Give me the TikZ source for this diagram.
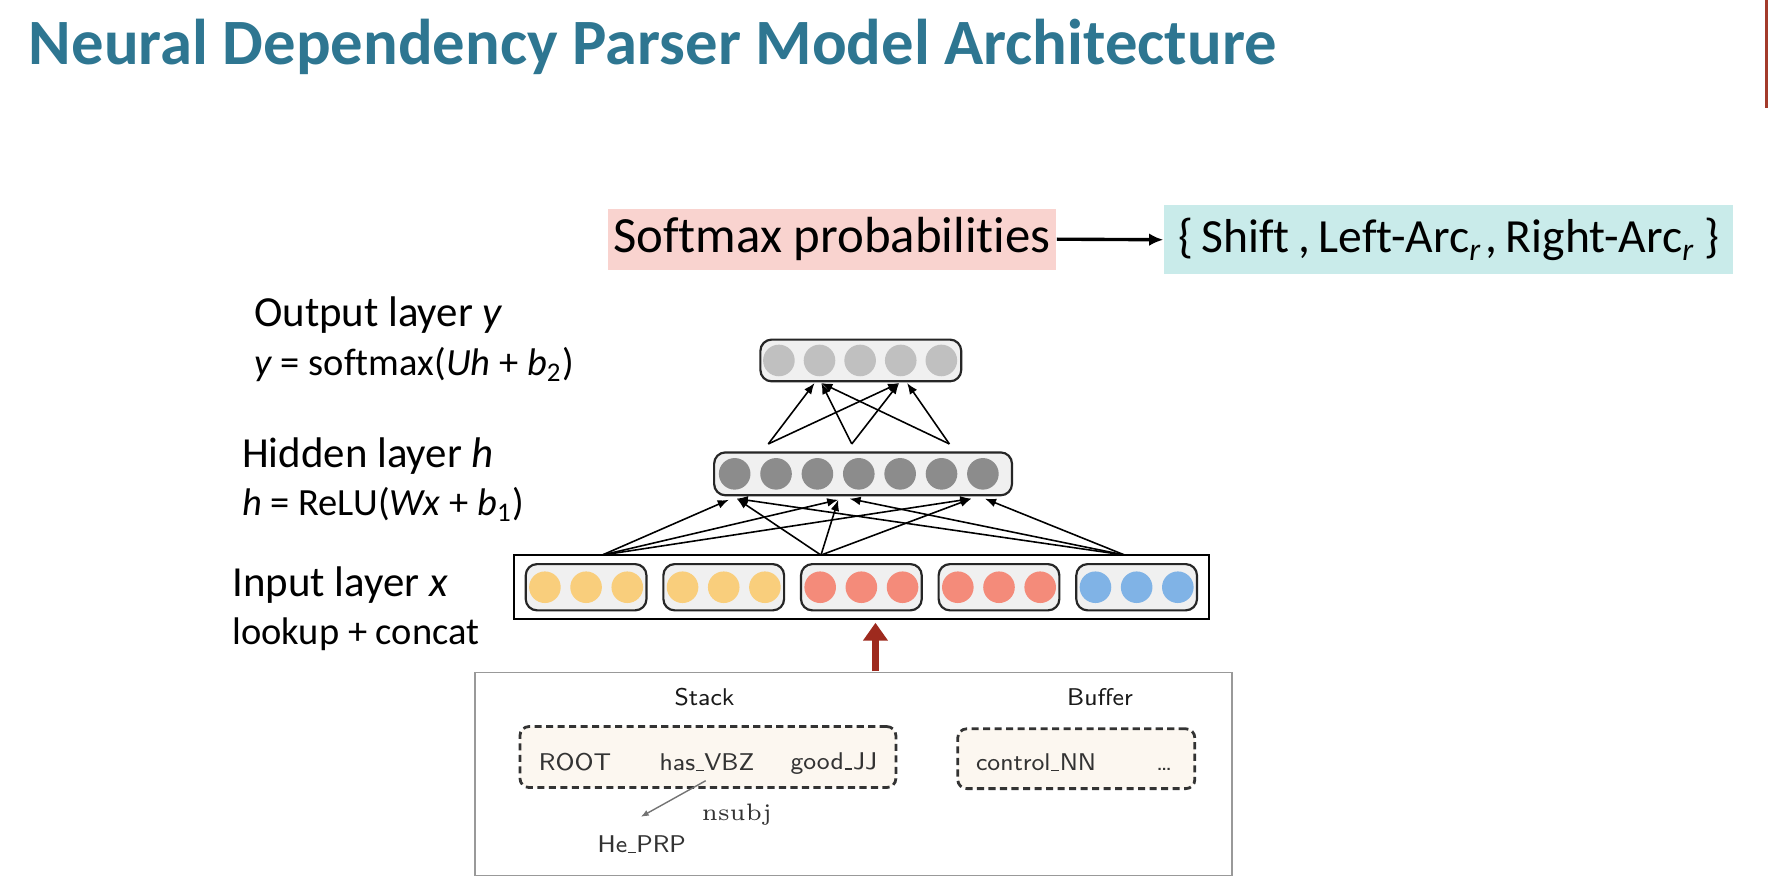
\documentclass[tikz,border=0pt]{standalone}
\usepackage{fontspec}
\setmainfont{Carlito}[Ligatures=NoCommon]
\usetikzlibrary{arrows.meta}

\definecolor{titleblue}{HTML}{2E7691}
\definecolor{softpink}{HTML}{F9D3CF}
\definecolor{actcyan}{HTML}{C9EBEA}
\definecolor{wordyellow}{HTML}{F9CE7C}
\definecolor{tagsalmon}{HTML}{F48B7A}
\definecolor{arcblue}{HTML}{80B3E6}
\definecolor{hidgray}{HTML}{8C8C8C}
\definecolor{outgray}{HTML}{C0C0C0}
\definecolor{liftred}{HTML}{9E2A1E}
\definecolor{edgered}{HTML}{A33B2B}
\definecolor{stackcream}{HTML}{FCF7F0}

\newcommand{\tagbar}{\kern0.03em\rule[-0.02em]{0.32em}{0.06em}\kern0.03em}
\newcommand{\actgap}{\hspace{0.18em}}

\tikzset{
  layerlabel/.style={anchor=base west, inner sep=0pt, font=\fontsize{10.8}{13}\selectfont},
  formula/.style={anchor=base west, inner sep=0pt, font=\fontsize{9.7}{12}\selectfont},
  layerbox/.style={draw=black!85, line width=0.55pt, rounded corners=0.1cm, fill=black!6},
  neuron/.style={circle, inner sep=0pt, minimum size=0.28cm},
  conn/.style={line width=0.4pt, -{Latex[length=2.8pt,width=2.2pt]}},
  probarrow/.style={line width=0.85pt, -{Latex[length=3.6pt,width=3.2pt]}},
  liftarrow/.style={draw=liftred, line width=1.8pt, -{Triangle[length=4.5pt,width=6pt]}},
  confword/.style={anchor=base west, inner sep=0pt, text=black!80, font=\sffamily\fontsize{6.1}{7}\selectfont},
  confhead/.style={anchor=base, inner sep=0pt, text=black!90, font=\sffamily\fontsize{6.1}{7}\selectfont},
  stackbox/.style={draw=black!80, line width=0.7pt, dash pattern=on 1.8pt off 1.1pt, rounded corners=0.08cm, fill=stackcream, inner sep=0pt},
  deparc/.style={draw=black!55, line width=0.35pt, -{Latex[length=2pt,width=1.6pt]}},
}

\begin{document}
\begin{tikzpicture}[x=0.01cm, y=-0.01cm]
  \fill[white] (0,0) rectangle (1568,784);
  \useasboundingbox (0,0) rectangle (1568,784);

  \node[anchor=base west, inner sep=0pt, text=titleblue, font=\bfseries\fontsize{16.3}{19}\selectfont] (title) at (25,57) {Neural Dependency Parser Model Architecture};
  \draw[edgered, line width=0.8pt] (1566,0) -- (1566,96);

  % softmax and the transitions
  \node[fill=softpink, minimum width=3.97cm, minimum height=0.54cm, inner sep=0pt, font=\fontsize{12.8}{15}\selectfont] (softmax) at (737.5,212) {Softmax probabilities};
  \node[fill=actcyan, minimum width=5.04cm, minimum height=0.61cm, inner sep=0pt, font=\fontsize{12}{15}\selectfont] (actions) at (1284,212.5) {\{\actgap Shift\actgap,\actgap Left-Arc\textsubscript{\textit{r}}\hspace{0.06em},\actgap Right-Arc\textsubscript{\textit{r}}\actgap\}};
  \draw[probarrow] (softmax.east) -- (actions.west);

  % labels on the left
  \node[layerlabel] (outlab) at (224.6,289.6) {Output layer \textit{y}};
  \node[formula] (outeq) at (224.6,332.5) {\textit{y} = softmax(\textit{Uh} + \textit{b}\textsubscript{2})};
  \node[layerlabel] (hidlab) at (214,414) {Hidden layer \textit{h}};
  \node[formula] (hideq) at (214,457) {\textit{h} = ReLU(\textit{Wx} + \textit{b}\textsubscript{1})};
  \node[layerlabel] (inlab) at (205.4,529) {Input layer \textit{x}};
  \node[formula] (ineq) at (205.4,571) {lookup + concat};

  % output layer
  \draw[layerbox] (674,301) rectangle (852,338);
  \foreach \i in {0,...,4}
    \node[neuron, fill=outgray] (out\i) at ({690.4+36*\i},319.5) {};

  % hidden layer
  \draw[layerbox] (633,401) rectangle (897,439);
  \foreach \i in {0,...,6}
    \node[neuron, fill=hidgray] (hid\i) at ({651.2+36.67*\i},420) {};

  % input layer
  \draw[line width=0.5pt] (456,492) rectangle (1072,549);
  \foreach \g/\col in {0/wordyellow,1/wordyellow,2/tagsalmon,3/tagsalmon,4/arcblue} {
    \draw[layerbox] ({466+122*\g},500) rectangle ({573+122*\g},541);
    \foreach \k in {0,1,2}
      \node[neuron, fill=\col] (in\g\k) at ({483+122*\g+36.5*\k},520.5) {};
  }

  \coordinate (xa) at (533.7,492);
  \coordinate (xb) at (727.7,492);
  \coordinate (xc) at (997,492);
  \coordinate (ha-l) at (646,443);
  \coordinate (ha-r) at (653,442);
  \coordinate (hb-l) at (743,443);
  \coordinate (hb-r) at (753,442);
  \coordinate (hc-l) at (861,442);
  \coordinate (hc-r) at (873,442);
  \foreach \s/\t in {xa/ha-l, xa/hb-l, xa/hc-l, xb/ha-r, xb/hb-l, xb/hc-l, xc/ha-r, xc/hb-r, xc/hc-r}
    \draw[conn] (\s) -- (\t);

  \coordinate (ha) at (681,393.5);
  \coordinate (hb) at (755,393.5);
  \coordinate (hc) at (841.5,393.5);
  \coordinate (ya-l) at (722,339.5);
  \coordinate (ya-r) at (728,339.5);
  \coordinate (yb-l) at (797,339.5);
  \coordinate (yb-r) at (804,339.5);
  \foreach \s/\t in {ha/ya-l, ha/yb-l, hb/ya-r, hb/yb-l, hc/ya-r, hc/yb-r}
    \draw[conn] (\s) -- (\t);

  % parser configuration
  \node[draw=black!40, line width=0.4pt, minimum width=6.71cm, minimum height=1.8cm, inner sep=0pt] (config) at (756.5,686) {};
  \coordinate (liftfoot) at (776,595);
  \coordinate (lifttip) at (776,552);
  \draw[liftarrow] (liftfoot) -- (lifttip);

  \node[confhead] (stack) at (624.5,625.4) {Stack};
  \node[confhead] (buffer) at (975,625) {Buffer};
  \node[stackbox, minimum width=3.33cm, minimum height=0.54cm] (stackcell) at (627.5,671) {};
  \node[stackbox, minimum width=2.1cm, minimum height=0.53cm] (buffercell) at (954,672.5) {};
  \node[confword] (root) at (477,683) {ROOT};
  \node[confword] (has) at (584,683) {has\tagbar VBZ};
  \node[confword] (good) at (700,682) {good\tagbar JJ};
  \node[confword] (control) at (864.4,683) {control\tagbar NN};
  \node[confword] (more) at (1024,683) {\ldots};
  \node[confword] (he) at (529,756) {He\tagbar PRP};
  \node[anchor=base west, inner sep=0pt, text=black!80, font={\fontfamily{lmr}\fontsize{6}{7}\selectfont}] (nsubj) at (621.5,727) {nsubj};
  \coordinate (arcfoot) at (625.5,692);
  \coordinate (arctip) at (568,724);
  \draw[deparc] (arcfoot) -- (arctip);
\end{tikzpicture}
\end{document}
